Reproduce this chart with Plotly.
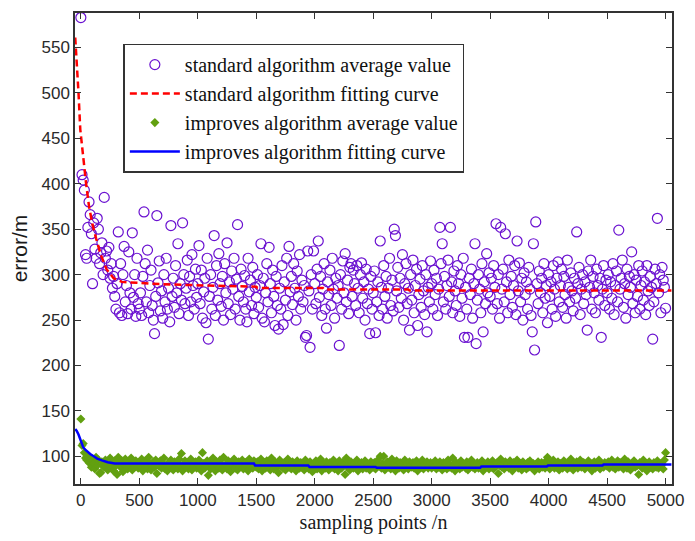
import plotly.graph_objects as go

# ---------------- data ----------------
x_samples = list(range(0, 5001, 10))

standard_avg = [
    583, 410, 404, 393, 322, 318, 352, 380, 366, 345,
    290, 357, 328, 318, 362, 350, 312, 324, 335, 300,
    385, 318, 326, 305, 330, 296, 312, 285, 298, 276,
    262, 290, 347, 258, 312, 255, 300, 331, 270, 288,
    257, 325, 280, 262, 346, 275, 300, 254, 318, 268,
    262, 280, 255, 298, 369, 312, 270, 327, 258, 288,
    305, 266, 250, 235, 276, 365, 291, 315, 260, 282,
    252, 300, 270, 318, 262, 285, 248, 354, 276, 296,
    264, 310, 280, 334, 257, 290, 272, 357, 300, 268,
    285, 316, 255, 298, 270, 322, 288, 262, 306, 275,
    290, 332, 268, 305, 252, 281, 296, 247, 318, 229,
    276, 300, 262, 286, 343, 255, 310, 272, 323, 290,
    265, 298, 250, 312, 280, 335, 268, 292, 256, 304,
    284, 318, 262, 295, 355, 276, 250, 306, 287, 270,
    299, 262, 248, 318, 281, 294, 266, 308, 257, 286,
    275, 300, 264, 288, 334, 252, 296, 248, 280, 312,
    270, 330, 290, 258, 305, 276, 244, 298, 266, 240,
    285, 262, 310, 245, 292, 272, 318, 255, 331, 281,
    298, 267, 312, 285, 250, 304, 276, 322, 262, 294,
    270, 288, 231, 233, 326, 282, 220, 300, 262, 326,
    290, 268, 306, 337, 275, 298, 255, 284, 312, 262,
    241, 292, 278, 305, 266, 318, 284, 252, 296, 274,
    288, 222, 300, 262, 315, 280, 323, 270, 294, 257,
    308, 312, 276, 305, 290, 266, 310, 285, 258, 300,
    313, 274, 292, 250, 306, 268, 284, 235, 298, 262,
    280, 304, 236, 270, 292, 255, 337, 286, 262, 310,
    276, 298, 252, 285, 318, 266, 294, 260, 350, 343,
    282, 308, 264, 296, 274, 322, 250, 290, 312, 268,
    285, 239, 300, 272, 316, 258, 288, 306, 244, 278,
    295, 264, 310, 282, 256, 300, 237, 286, 270, 315,
    290, 262, 305, 278, 296, 255, 284, 352, 312, 334,
    270, 298, 262, 288, 316, 276, 352, 292, 258, 304,
    282, 266, 310, 290, 254, 300, 274, 318, 231, 286,
    262, 231, 296, 278, 306, 252, 290, 334, 224, 272,
    300, 284, 258, 312, 237, 292, 268, 323, 280, 302,
    276, 296, 262, 310, 286, 356, 268, 300, 252, 352,
    284, 306, 270, 345, 292, 258, 316, 278, 298, 264,
    288, 310, 256, 337, 282, 313, 270, 296, 250, 302,
    278, 292, 262, 308, 284, 255, 237, 334, 217, 358,
    290, 268, 304, 280, 296, 258, 312, 274, 288, 247,
    300, 276, 292, 262, 310, 284, 254, 296, 314, 270,
    288, 306, 264, 298, 278, 252, 316, 286, 270, 302,
    282, 260, 296, 274, 347, 290, 308, 256, 284, 300,
    268, 292, 278, 239, 304, 286, 316, 262, 298, 280,
    258, 306, 288, 272, 296, 231, 284, 310, 266, 294,
    280, 300, 262, 292, 274, 312, 256, 288, 304, 270,
    349, 284, 296, 316, 264, 290, 252, 306, 278, 298,
    286, 325, 268, 300, 258, 294, 276, 310, 262, 288,
    304, 272, 292, 256, 310, 282, 266, 298, 286, 229,
    270, 306, 290, 362, 280, 300, 258, 308, 294, 286,
    263,
]

improved_avg = [
    141, 112, 114, 104, 98, 96, 100, 93, 97, 88,
    95, 92, 86, 99, 90, 96, 81, 82, 94, 90,
    88, 96, 92, 85, 91, 98, 87, 93, 84, 95,
    90, 80, 99, 92, 88, 95, 83, 91, 97, 89,
    86, 93, 90, 98, 85, 92, 88, 95, 90, 87,
    93, 89, 97, 84, 91, 95, 88, 86, 99, 92,
    85, 90, 94, 88, 96, 81, 91, 89, 95, 87,
    92, 98, 86, 90, 84, 93, 89, 96, 91, 85,
    94, 88, 92, 86, 97, 90, 103, 84, 91, 95,
    88, 93, 86, 90, 97, 85, 92, 89, 94, 87,
    91, 96, 88, 84, 104, 92, 87, 90, 95, 79,
    93, 86, 91, 98, 88, 84, 94, 90, 87, 96,
    92, 85, 99, 89, 91, 86, 95, 88, 83, 93,
    90, 97, 87, 92, 85, 94, 89, 91, 96, 86,
    88, 93, 90, 84, 97, 89, 92, 87, 95, 90,
    88, 94, 86, 91, 97, 84, 90, 93, 87, 95,
    89, 92, 85, 98, 90, 86, 94, 88, 91, 82,
    96, 89, 92, 87, 93, 85, 90, 97, 88, 91,
    86, 94, 89, 92, 84, 95, 90, 87, 93, 88,
    91, 85, 96, 89, 92, 86, 94, 90, 83, 92,
    89, 95, 86, 91, 88, 97, 84, 92, 90, 87,
    94, 89, 85, 93, 91, 88, 96, 86, 90, 92,
    84, 95, 89, 87, 93, 90, 80, 98, 88, 91,
    85, 94, 90, 87, 92, 89, 96, 84, 91, 88,
    93, 86, 90, 95, 87, 92, 89, 85, 94, 90,
    88, 93, 86, 91, 96, 89, 100, 87, 92, 100,
    85, 90, 94, 88, 91, 86, 97, 89, 92, 84,
    95, 90, 87, 93, 88, 91, 85, 96, 89, 92,
    86, 94, 90, 88, 93, 87, 91, 95, 84, 90,
    92, 88, 96, 86, 91, 89, 94, 87, 90, 93,
    87, 92, 89, 95, 86, 91, 88, 94, 90, 85,
    93, 89, 92, 86, 96, 88, 91, 87, 98, 90,
    84, 93, 89, 91, 86, 95, 88, 92, 90, 87,
    94, 85, 91, 89, 96, 88, 92, 86, 90, 93,
    87, 91, 88, 95, 84, 92, 89, 90, 94, 86,
    91, 88, 95, 86, 92, 89, 93, 81, 90, 97,
    88, 91, 86, 94, 89, 92, 87, 95, 90, 84,
    93, 88, 91, 96, 87, 90, 92, 85, 94, 89,
    91, 86, 93, 88, 95, 90, 87, 92, 84, 91,
    89, 94, 86, 90, 93, 88, 91, 87, 95, 99,
    90, 86, 93, 89, 96, 87, 91, 88, 94, 85,
    92, 90, 87, 95, 89, 91, 86, 93, 88, 97,
    90, 85, 92, 89, 94, 87, 91, 96, 88, 90,
    93, 86, 91, 89, 95, 88, 92, 84, 90, 94,
    87, 91, 89, 96, 86, 92, 90, 88, 93, 91,
    89, 94, 87, 91, 96, 88, 92, 86, 90, 95,
    88, 93, 89, 91, 86, 97, 90, 87, 94, 92,
    85, 91, 89, 95, 88, 92, 90, 80, 93, 91,
    87, 96, 89, 92, 84, 90, 94, 88, 91, 86,
    93, 90, 88, 95, 87, 92, 89, 91, 86, 96,
    104,
]

std_fit_x = [-48, -35, -20, -5, 5, 15, 30, 45, 70, 100, 130, 170, 220, 280, 350,
             450, 600, 800, 1000, 1250, 1500, 1510, 2070, 2080, 2800, 2810, 5050]
std_fit_y = [561, 535, 500, 460, 448, 430, 412, 400, 375, 355, 340, 322, 306, 296, 292,
             291, 290, 289, 288, 287.4, 286.7, 285.3, 285.3, 283.7, 283.5, 282.6, 282.6]

imp_fit_x = [-48, -35, -20, -5, 5, 20, 40, 60, 80, 110, 140, 180, 230, 290, 1480, 1490,
             1945, 1955, 2520, 2530, 3415, 3425, 3985, 3995, 4460, 4470, 5050]
imp_fit_y = [130, 128, 124, 118, 114, 110, 107, 104.5, 102.5, 100, 97.5, 95.5, 93.5, 92,
             92, 90, 90, 88.2, 88.2, 87.3, 87.3, 88.8, 88.8, 89.9, 89.9, 91, 91]

x_ticks = [0, 500, 1000, 1500, 2000, 2500, 3000, 3500, 4000, 4500, 5000]
y_ticks = [100, 150, 200, 250, 300, 350, 400, 450, 500, 550]

# ---------------- figure ----------------
fig = go.Figure()

fig.add_trace(go.Scatter(
    x=x_samples, y=standard_avg, mode="markers",
    name="standard algorithm average value",
    marker=dict(symbol="circle-open", size=10, color="#6A11D0",
                line=dict(width=1.2, color="#6A11D0")),
))
fig.add_trace(go.Scatter(
    x=std_fit_x, y=std_fit_y, mode="lines",
    name="standard algorithm fitting curve",
    line=dict(color="#FF0000", width=2.5, dash="7px,4px"),
))
fig.add_trace(go.Scatter(
    x=x_samples, y=improved_avg, mode="markers",
    name="improves algorithm average value",
    marker=dict(symbol="diamond", size=7, color="#62A010", line=dict(width=0)),
))
fig.add_trace(go.Scatter(
    x=imp_fit_x, y=imp_fit_y, mode="lines",
    name="improves algorithm fitting curve",
    line=dict(color="#0000FF", width=2.5),
))

axis_common = dict(
    showline=True, linecolor="#333333", linewidth=1.5, mirror="ticks",
    ticks="inside", ticklen=6, tickwidth=1.2, tickcolor="#333333",
    showgrid=False, zeroline=False,
    tickfont=dict(family="Liberation Sans, Arial", size=17, color="#2a2a2a"),
)

fig.update_xaxes(
    range=[-50, 5055], tickvals=x_ticks,
    title=dict(text="sampling points /n", standoff=6,
               font=dict(family="Liberation Serif, Times New Roman", size=20, color="#1a1a1a")),
    **axis_common,
)
fig.update_yaxes(
    range=[69.5, 588], tickvals=y_ticks,
    title=dict(text="error/m", standoff=8,
               font=dict(family="Liberation Sans, Arial", size=21, color="#1a1a1a")),
    **axis_common,
)

fig.update_layout(
    width=695, height=541,
    margin=dict(l=75, r=12, t=11, b=52),
    plot_bgcolor="white", paper_bgcolor="white",
    legend=dict(
        x=0.081, y=0.935, xanchor="left", yanchor="top",
        bgcolor="white", bordercolor="#333333", borderwidth=1.5,
        font=dict(family="Liberation Serif, Times New Roman", size=20, color="#111111"),
        itemwidth=50,
    ),
)

fig.write_html("out.html")
